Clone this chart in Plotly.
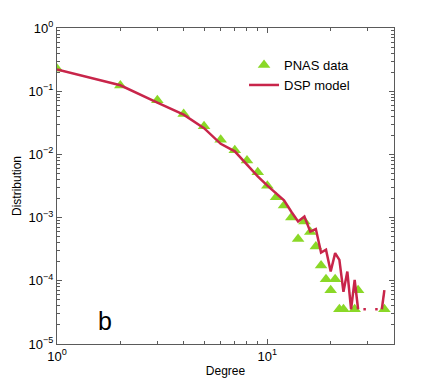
import plotly.graph_objects as go

# PNAS data (degree -> distribution)
data_k = [1, 2, 3, 4, 5, 6, 7, 8, 9, 10, 11, 12, 13, 14, 15, 16, 17, 18, 19,
          20, 21, 22, 23, 26, 27, 36]
data_p = [0.226, 0.123, 0.0717, 0.0437, 0.0278, 0.0171, 0.0116, 0.0080, 0.0052,
          0.0032, 0.0021, 0.00155, 0.00100, 0.00046, 0.00087, 0.00059, 0.00035,
          0.000175, 0.000106, 0.000071, 0.000106, 0.0000355, 0.0000355,
          0.0000355, 0.000071, 0.0000355]

# DSP model, None where the model has zero probability
model_k = list(range(1, 37))
model_p = [0.22, 0.124, 0.066, 0.0426, 0.026, 0.0147, 0.0112, 0.0069, 0.0045,
           0.0032, 0.00245, 0.00188, 0.00124, 0.00087, 0.00104, 0.00060, 0.00066,
           0.00028, 0.00031, 0.00014, 0.000274, 0.000214, 0.000067, 0.00014,
           0.0000355, 0.000103, 0.0000355, None, 0.0000355, None, None, None,
           0.0000355, None, 0.0000355, 0.000071]

x_ticks = [1, 10]
x_ticktext = ["10<sup>0</sup>", "10<sup>1</sup>"]
x_minor = [2, 3, 4, 5, 6, 7, 8, 9, 20, 30, 40]
y_ticks = [1e-5, 1e-4, 1e-3, 1e-2, 1e-1, 1]
y_ticktext = ["10<sup>−5</sup>", "10<sup>−4</sup>", "10<sup>−3</sup>",
              "10<sup>−2</sup>", "10<sup>−1</sup>", "10<sup>0</sup>"]
y_minor = [m * 10 ** e for e in range(-5, 0) for m in range(2, 10)]

RED = "#c8254a"
GREEN = "#8ad827"

# single model points with no neighbours (drawn as dots)
iso_k, iso_p = [], []
for i, v in enumerate(model_p):
    prev_v = model_p[i - 1] if i > 0 else None
    next_v = model_p[i + 1] if i + 1 < len(model_p) else None
    if v is not None and prev_v is None and next_v is None:
        iso_k.append(model_k[i])
        iso_p.append(v)

fig = go.Figure()

fig.add_trace(
    go.Scatter(
        x=data_k,
        y=data_p,
        mode="markers",
        name="PNAS data",
        marker=dict(symbol="triangle-up", size=11, color=GREEN, line=dict(width=0)),
    )
)

fig.add_trace(
    go.Scatter(
        x=model_k,
        y=model_p,
        mode="lines",
        name="DSP model",
        line=dict(color=RED, width=2.5),
        connectgaps=False,
    )
)

fig.add_trace(
    go.Scatter(
        x=iso_k,
        y=iso_p,
        mode="markers",
        showlegend=False,
        marker=dict(symbol="square", size=2.5, color=RED, line=dict(width=0)),
    )
)

axis_common = dict(
    type="log",
    automargin=False,
    showline=True,
    linecolor="#5a5a5a",
    linewidth=1,
    mirror="allticks",
    ticks="inside",
    ticklen=5,
    tickcolor="#5a5a5a",
    showgrid=False,
    zeroline=False,
    tickfont=dict(size=13, color="#000000"),
)

# the page body adds an 8px offset, so margins are trimmed by that amount
fig.update_layout(
    width=436,
    height=388,
    paper_bgcolor="white",
    plot_bgcolor="white",
    font=dict(family="Liberation Sans, Arial, sans-serif", color="#000000"),
    margin=dict(l=49, r=50, t=20, b=52),
    showlegend=True,
    xaxis=dict(
        axis_common,
        range=[0, 1.602],
        tickmode="array",
        tickvals=x_ticks,
        ticktext=x_ticktext,
        minor=dict(ticks="inside", ticklen=3, tickcolor="#5a5a5a",
                   tickmode="array", tickvals=x_minor, showgrid=False),
        title=dict(text="Degree", font=dict(size=12), standoff=4),
    ),
    yaxis=dict(
        axis_common,
        range=[-5, 0],
        tickmode="array",
        tickvals=y_ticks,
        ticktext=y_ticktext,
        minor=dict(ticks="inside", ticklen=3, tickcolor="#5a5a5a",
                   tickmode="array", tickvals=y_minor, showgrid=False),
        title=dict(text="Distribution", font=dict(size=12), standoff=4),
    ),
    legend=dict(
        x=0.555,
        y=0.93,
        xanchor="left",
        yanchor="top",
        bgcolor="rgba(0,0,0,0)",
        font=dict(size=13),
        itemwidth=30,
        tracegroupgap=0,
    ),
    annotations=[
        dict(
            text="b",
            x=0.115,
            y=0.022,
            xref="paper",
            yref="paper",
            showarrow=False,
            font=dict(size=25),
        )
    ],
)

fig.write_html("out.html")
